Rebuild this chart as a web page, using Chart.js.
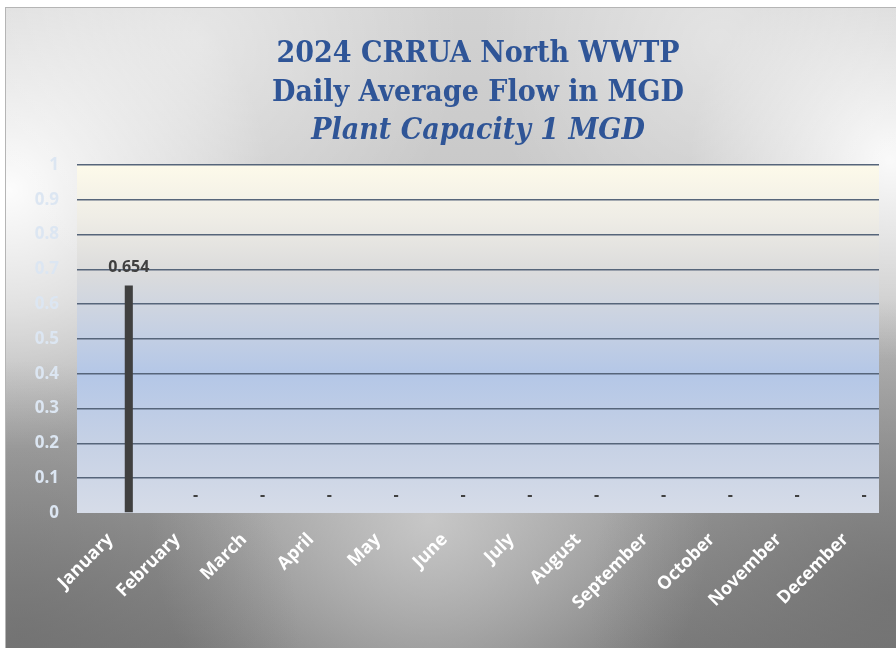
<!DOCTYPE html>
<html lang="en">
<head>
    <meta charset="UTF-8">
    <title>2024 CRRUA North WWTP - Daily Average Flow</title>
    <script src="https://cdn.jsdelivr.net/npm/chart.js"></script>
    <style>
        html, body {
            margin: 0;
            padding: 0;
            background: #ffffff;
        }
        #wrap {
            width: 896px;
            height: 648px;
        }
    </style>
</head>
<body>
    <div id="wrap">
        <canvas id="flowChart" width="896" height="648"></canvas>
    </div>

    <script>
        // chart data
        const months = ['January', 'February', 'March', 'April', 'May', 'June',
            'July', 'August', 'September', 'October', 'November', 'December'];
        const avgFlow = [0.654, 0, 0, 0, 0, 0, 0, 0, 0, 0, 0, 0];
        const spacer = months.map(() => null); // empty series, keeps the bar off-centre like the excel sheet
        const yTicks = [0, 0.1, 0.2, 0.3, 0.4, 0.5, 0.6, 0.7, 0.8, 0.9, 1];

        const titleLines = ['2024 CRRUA North WWTP', 'Daily Average Flow in MGD'];
        const subTitle = 'Plant Capacity 1 MGD';

        const serif = "'DejaVu Serif Condensed', 'DejaVu Serif', serif";
        const sans = "'Open Sans', 'Noto Sans', sans-serif";

        // outer panel + plot area fills
        const backdrop = {
            id: 'backdrop',
            beforeDraw(chart) {
                const ctx = chart.ctx;
                const W = chart.width, H = chart.height;
                ctx.save();
                ctx.fillStyle = '#ffffff';
                ctx.fillRect(0, 0, W, H);

                // base: light at top, dark at bottom
                let g = ctx.createLinearGradient(0, 8, 0, H);
                g.addColorStop(0, '#d2d2d2');
                g.addColorStop(0.45, '#c2c2c2');
                g.addColorStop(1, '#7c7c7c');
                ctx.fillStyle = g;
                ctx.fillRect(6, 8, W, H);

                // white glow on the left and right edges
                const glow = (x, y, r, col) => {
                    const rg = ctx.createRadialGradient(x, y, 0, x, y, r);
                    rg.addColorStop(0, col);
                    rg.addColorStop(1, col.replace(/[\d.]+\)$/, '0)'));
                    ctx.fillStyle = rg;
                    ctx.fillRect(6, 8, W, H);
                };
                glow(10, 190, 260, 'rgba(255,255,255,0.95)');
                glow(890, 160, 200, 'rgba(255,255,255,0.9)');
                glow(200, 40, 260, 'rgba(255,255,255,0.45)');
                glow(720, 40, 240, 'rgba(255,255,255,0.4)');
                glow(430, 520, 280, 'rgba(220,220,220,0.7)');
                glow(20, 640, 280, 'rgba(110,110,110,0.65)');
                glow(890, 600, 300, 'rgba(110,110,110,0.7)');

                ctx.strokeStyle = '#b5b5b5';
                ctx.lineWidth = 1;
                ctx.strokeRect(5.5, 7.5, W + 10, H + 10);

                // plot area
                const a = chart.chartArea;
                const pg = ctx.createLinearGradient(0, a.top, 0, a.bottom);
                pg.addColorStop(0, '#fdfaea');
                pg.addColorStop(0.15, '#efede6');
                pg.addColorStop(0.3, '#dcdcdc');
                pg.addColorStop(0.45, '#c9d2e2');
                pg.addColorStop(0.6, '#b4c7e7');
                pg.addColorStop(0.8, '#c6d1e5');
                pg.addColorStop(1, '#d6dce8');
                ctx.fillStyle = pg;
                ctx.fillRect(a.left, a.top, a.right - a.left, a.bottom - a.top);
                ctx.restore();
            }
        };

        // value labels above the bars ("-" for zero months)
        const barLabels = {
            id: 'barLabels',
            afterDatasetsDraw(chart) {
                const ctx = chart.ctx;
                const meta = chart.getDatasetMeta(1);
                ctx.save();
                ctx.font = 'bold 16px ' + sans;
                ctx.fillStyle = '#404040';
                ctx.textAlign = 'center';
                ctx.textBaseline = 'middle';
                meta.data.forEach((bar, i) => {
                    const v = avgFlow[i];
                    const txt = v > 0 ? v.toFixed(3) : '-';
                    ctx.fillText(txt, bar.x, bar.y - 18);
                });
                ctx.restore();
            }
        };

        const ctx = document.getElementById('flowChart').getContext('2d');
        new Chart(ctx, {
            type: 'bar',
            data: {
                labels: months,
                datasets: [
                    { label: '', data: spacer },
                    {
                        label: 'Daily Average Flow',
                        data: avgFlow,
                        backgroundColor: '#404040'
                    }
                ]
            },
            options: {
                responsive: false,
                animation: false,
                layout: {
                    padding: { left: 0, right: 17, top: 0, bottom: 6 }
                },
                datasets: {
                    bar: { categoryPercentage: 1.1, barPercentage: 0.22 }
                },
                scales: {
                    x: {
                        grid: { display: false },
                        border: { display: false },
                        ticks: {
                            color: '#ffffff',
                            font: { family: sans, size: 18, weight: 'bold' },
                            minRotation: 45,
                            maxRotation: 45,
                            autoSkip: false,
                            padding: 8
                        },
                        afterFit: s => { s.height = 129; }
                    },
                    y: {
                        min: 0,
                        max: 1,
                        afterBuildTicks: s => { s.ticks = yTicks.map(v => ({ value: v })); },
                        grid: {
                            color: c => c.tick && c.tick.value === 0 ? 'rgba(0,0,0,0)' : '#56657a',
                            lineWidth: 1.6,
                            drawTicks: false
                        },
                        border: { display: false },
                        ticks: {
                            color: '#dce6f2',
                            font: { family: sans, size: 17, weight: 'bold' },
                            padding: 18,
                            callback: v => String(Math.round(v * 10) / 10)
                        },
                        afterFit: s => { s.width = 77; }
                    }
                },
                plugins: {
                    legend: { display: false },
                    tooltip: { enabled: false },
                    title: {
                        display: true,
                        text: titleLines,
                        color: '#2f5597',
                        fullSize: false,
                        font: { family: serif, size: 30, weight: 'bold', lineHeight: 1.3 },
                        padding: { top: 35, bottom: 0 }
                    },
                    subtitle: {
                        display: true,
                        text: subTitle,
                        color: '#2f5597',
                        fullSize: false,
                        font: { family: serif, size: 30, weight: 'bold', style: 'italic', lineHeight: 1.2 },
                        padding: { top: 0, bottom: 16 }
                    }
                }
            },
            plugins: [backdrop, barLabels]
        });
    </script>
</body>
</html>
